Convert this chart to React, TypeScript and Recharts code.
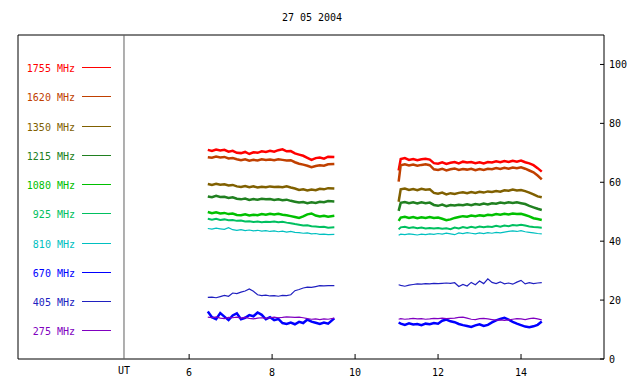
import React from "react";
import { LineChart, Line, XAxis, YAxis, ReferenceArea, ReferenceLine } from "recharts";

// observation times (UT hours), two recording sessions
const T1 = [6.45, 6.55, 6.65, 6.75, 6.85, 6.95, 7.05, 7.15, 7.25, 7.35, 7.45, 7.55, 7.65, 7.75, 7.85, 7.95, 8.05, 8.15, 8.25, 8.35, 8.45, 8.55, 8.65, 8.75, 8.85, 8.95, 9.05, 9.15, 9.25, 9.35, 9.5];
const T2 = [11.05, 11.1, 11.2, 11.3, 11.4, 11.5, 11.6, 11.7, 11.8, 11.9, 12.0, 12.1, 12.2, 12.3, 12.4, 12.5, 12.6, 12.7, 12.8, 12.9, 13.0, 13.1, 13.2, 13.3, 13.4, 13.5, 13.6, 13.7, 13.8, 13.9, 14.0, 14.1, 14.2, 14.3, 14.4, 14.5];
const GAP = 10.3;

const f1755 = [71.0, 70.6, 71.1, 70.8, 71.0, 70.4, 70.7, 70.0, 69.9, 70.3, 69.6, 70.2, 70.0, 70.5, 70.3, 70.7, 70.4, 70.9, 71.2, 70.5, 70.6, 69.8, 69.4, 69.0, 68.3, 67.6, 68.2, 68.4, 68.0, 68.7, 68.6,
  64.0, 67.9, 68.2, 67.6, 67.9, 67.5, 67.8, 68.0, 67.7, 66.5, 66.3, 66.8, 66.2, 66.6, 66.9, 66.4, 67.0, 66.7, 66.9, 66.5, 66.8, 66.4, 66.9, 66.7, 67.1, 66.8, 67.2, 66.9, 67.3, 67.0, 67.4, 66.8, 66.4, 65.8, 64.8, 63.6];
const f1620 = [68.5, 68.3, 68.7, 68.4, 68.6, 68.1, 68.2, 67.8, 67.5, 67.8, 67.3, 67.6, 67.4, 67.8, 67.6, 67.7, 67.5, 67.8, 67.6, 67.4, 67.5, 66.8, 66.3, 66.0, 65.6, 65.1, 65.5, 65.8, 65.6, 66.1, 66.2,
  60.2, 65.8, 66.1, 65.7, 66.0, 65.6, 65.9, 66.1, 65.8, 64.4, 64.2, 64.6, 64.0, 64.4, 64.7, 64.2, 64.5, 64.3, 64.6, 64.1, 64.5, 64.2, 64.6, 64.4, 64.8, 64.5, 64.9, 64.6, 65.0, 64.8, 65.1, 64.6, 64.0, 63.4, 62.3, 61.0];
const f1350 = [59.4, 59.1, 59.5, 59.2, 59.3, 58.9, 59.1, 58.6, 58.4, 58.7, 58.3, 58.6, 58.2, 58.5, 58.3, 58.6, 58.4, 58.5, 58.3, 58.6, 58.2, 57.9, 57.4, 57.6, 57.2, 57.5, 57.3, 57.8, 57.6, 58.0, 57.9,
  53.4, 57.6, 57.9, 57.4, 57.7, 57.3, 57.8, 57.5, 57.6, 56.4, 56.1, 56.5, 55.9, 56.3, 56.0, 56.4, 56.6, 56.3, 56.7, 56.4, 56.8, 56.5, 56.9, 56.7, 57.0, 56.8, 57.3, 57.1, 57.5, 57.2, 57.4, 57.0, 56.5, 55.9, 55.2, 54.9];
const f1215 = [55.2, 54.9, 55.4, 55.0, 55.1, 54.7, 54.9, 54.4, 54.2, 54.5, 54.0, 54.3, 54.1, 54.4, 54.2, 54.3, 54.0, 54.2, 53.9, 54.1, 53.7, 53.4, 53.1, 53.3, 52.9, 53.2, 53.0, 53.4, 53.2, 53.6, 53.5,
  50.3, 53.0, 53.3, 52.9, 53.2, 52.8, 53.2, 52.9, 53.1, 52.3, 52.0, 52.4, 51.9, 52.3, 52.1, 52.4, 52.2, 52.5, 52.2, 52.6, 52.4, 52.8, 52.5, 52.9, 52.7, 53.1, 52.9, 53.2, 53.0, 53.2, 52.9, 52.6, 52.0, 51.5, 51.0, 50.6];
const f1080 = [49.9, 49.5, 49.8, 49.4, 49.6, 49.2, 49.4, 48.9, 48.8, 49.1, 48.7, 49.0, 48.8, 49.2, 49.0, 49.3, 49.1, 49.3, 49.0, 48.8, 48.5, 48.2, 47.9, 48.4, 49.1, 49.4, 48.7, 48.4, 48.6, 48.3, 48.6,
  46.9, 48.0, 48.3, 47.9, 48.2, 47.8, 48.1, 47.9, 48.2, 47.9, 48.0, 47.6, 47.1, 47.4, 47.9, 48.2, 48.5, 48.3, 48.7, 48.5, 48.8, 48.6, 49.0, 48.8, 49.2, 49.0, 49.3, 49.1, 49.4, 49.2, 49.3, 48.9, 48.4, 47.8, 47.5, 47.2];
const f925 = [47.6, 47.3, 47.6, 47.2, 47.4, 47.1, 47.2, 46.9, 47.0, 46.7, 46.8, 46.5, 46.7, 46.4, 46.6, 46.5, 46.7, 46.4, 46.6, 46.3, 46.1, 45.8, 45.6, 45.3, 45.4, 45.1, 45.0, 44.8, 44.9, 44.6, 44.7,
  44.0, 44.7, 44.9, 44.5, 44.7, 44.4, 44.6, 44.3, 44.5, 44.3, 44.5, 44.2, 44.4, 44.1, 44.6, 44.3, 44.8, 44.5, 44.9, 44.6, 45.0, 44.7, 45.0, 44.8, 45.2, 44.9, 45.3, 45.1, 45.5, 45.3, 45.6, 45.3, 45.0, 44.8, 44.7, 44.6];
const f810 = [44.3, 44.1, 44.4, 44.2, 44.0, 44.6, 43.9, 43.7, 43.9, 43.6, 43.8, 43.5, 43.7, 43.4, 43.6, 43.3, 43.5, 43.2, 43.4, 43.1, 43.3, 43.0, 42.9, 42.7, 42.8, 42.5, 42.6, 42.3, 42.4, 42.2, 42.3,
  42.0, 42.4, 42.2, 42.5, 42.3, 42.1, 42.4, 42.2, 42.5, 42.3, 42.6, 42.4, 42.7, 42.5, 42.2, 42.8, 42.6, 42.9, 42.7, 42.5, 42.8, 42.6, 42.9, 42.7, 43.0, 42.8, 43.1, 43.3, 43.5, 43.3, 43.6, 43.2, 43.0, 42.8, 42.6, 42.5];
const f670 = [16.1, 14.2, 13.5, 15.6, 14.4, 13.2, 14.8, 15.5, 13.5, 14.0, 14.9, 14.5, 15.8, 15.0, 13.5, 14.2, 13.2, 13.6, 12.2, 11.9, 12.4, 11.8, 12.6, 12.2, 13.4, 12.7, 12.3, 11.9, 12.4, 12.0, 13.8,
  12.4, 12.0, 11.6, 12.1, 11.7, 11.9, 11.5, 12.0, 11.8, 12.2, 12.0, 13.0, 13.4, 12.8, 12.5, 11.9, 11.5, 11.2, 10.9, 11.4, 11.8, 11.2, 11.6, 12.4, 13.1, 13.6, 14.0, 13.4, 12.6, 12.0, 11.5, 11.0, 10.8, 11.1, 11.6, 12.7];
const f405 = [20.9, 21.0, 20.8, 21.2, 21.6, 21.3, 22.4, 22.2, 22.7, 23.1, 23.8, 23.0, 21.8, 21.5, 21.7, 21.4, 21.5, 21.3, 21.6, 21.5, 21.8, 23.2, 23.6, 24.1, 24.4, 24.3, 24.6, 24.9, 24.8, 24.9, 24.9,
  25.2, 25.0, 24.7, 25.1, 25.3, 25.5, 25.4, 25.6, 25.5, 25.7, 25.6, 25.7, 25.8, 25.7, 25.9, 24.6, 25.3, 24.8, 26.0, 25.2, 26.5, 25.6, 27.2, 26.0, 25.6, 26.2, 25.5, 25.8, 25.4, 26.1, 26.7, 25.5, 25.9, 25.6, 25.8, 25.9];
const f275 = [14.2, 14.0, 14.3, 13.9, 13.7, 14.1, 14.0, 14.2, 13.9, 14.1, 13.8, 13.6, 13.9, 14.0, 13.8, 14.0, 14.2, 14.0, 14.1, 14.3, 14.2, 14.1, 14.2, 14.0, 13.7, 13.5, 13.6, 13.4, 13.6, 13.5, 13.9,
  13.5, 13.7, 13.5, 13.6, 13.8, 13.6, 13.7, 13.5, 13.6, 13.8, 13.7, 13.9, 13.7, 13.8, 13.9, 14.1, 14.2, 13.9, 13.5, 13.4, 13.7, 13.8, 13.6, 13.4, 13.2, 13.3, 13.1, 13.3, 13.5, 13.7, 13.6, 13.4, 13.7, 13.9, 13.6, 13.3];

const SERIES = [
  { key: "f1755", label: "1755 MHz", color: "#ff0000", values: f1755, w: 2.5 },
  { key: "f1620", label: "1620 MHz", color: "#c04000", values: f1620, w: 2.5 },
  { key: "f1350", label: "1350 MHz", color: "#806000", values: f1350, w: 2.5 },
  { key: "f1215", label: "1215 MHz", color: "#208020", values: f1215, w: 2.5 },
  { key: "f1080", label: "1080 MHz", color: "#00c000", values: f1080, w: 2.5 },
  { key: "f925", label: "925 MHz", color: "#00c060", values: f925, w: 2 },
  { key: "f810", label: "810 MHz", color: "#00c0c0", values: f810, w: 1.2 },
  { key: "f670", label: "670 MHz", color: "#0000ff", values: f670, w: 2.5 },
  { key: "f405", label: "405 MHz", color: "#2020c0", values: f405, w: 1.2 },
  { key: "f275", label: "275 MHz", color: "#8000c0", values: f275, w: 1.2 },
];

const X_TICKS = [6, 8, 10, 12, 14];
const Y_TICKS = [0, 20, 40, 60, 80, 100];
const X_MIN = 1.875;
const X_MAX = 16;
const UT_POS = 4.43;
const TITLE = "27 05 2004";

const FONT = "'DejaVu Sans Mono', 'Liberation Mono', monospace";

const times = [...T1, GAP, ...T2];
const data = times.map((t, i) => {
  const row: Record<string, number | null> = { t };
  const gapIdx = T1.length;
  SERIES.forEach((s) => {
    if (i === gapIdx) row[s.key] = null;
    else row[s.key] = s.values[i < gapIdx ? i : i - 1];
  });
  return row;
});

function BottomTick({ x, y, payload }: any) {
  const ut = payload.value === UT_POS;
  return (
    <g>
      {!ut && <line x1={x} y1={y} x2={x} y2={y - 5} stroke="#000" />}
      <text x={x} y={ut ? y + 15 : y + 17} textAnchor="middle" fontSize={10} fontFamily={FONT} fill="#000">
        {ut ? "UT" : payload.value}
      </text>
    </g>
  );
}

function TopTick({ x, y }: any) {
  return <line x1={x} y1={y} x2={x} y2={y + 5} stroke="#000" />;
}

function RightTick({ x, y, payload }: any) {
  return (
    <g>
      <line x1={x - 4} y1={y} x2={x} y2={y} stroke="#000" />
      <text x={x + 5} y={y + 4} textAnchor="start" fontSize={10} fontFamily={FONT} fill="#000">
        {payload.value}
      </text>
    </g>
  );
}

// legend drawn like the original: colored label, then a short sample line
function LegendBox() {
  return (
    <svg width={124} height={384} style={{ position: "absolute", left: 0, top: 0 }}>
      {SERIES.map((s, i) => {
        const y = Math.round(67 + i * 29.25) + 0.5;
        return (
          <g key={s.key}>
            <text x={75} y={y + 4.5} textAnchor="end" fontSize={10} fontFamily={FONT} fill={s.color}>
              {s.label}
            </text>
            <line x1={82} y1={y} x2={111} y2={y} stroke={s.color} strokeWidth={1} />
          </g>
        );
      })}
    </svg>
  );
}

export default function App() {
  return (
    <div style={{ position: "absolute", left: 0, top: 0, width: 640, height: 384, background: "#fff", fontFamily: FONT }}>
      <div style={{ position: "absolute", left: 0, top: 12, width: 624, textAlign: "center", fontSize: 10 }}>{TITLE}</div>
      <LineChart width={640} height={384} data={data} margin={{ top: 35, right: 0, bottom: 0, left: 18 }}>
        <XAxis
          dataKey="t"
          type="number"
          domain={[X_MIN, X_MAX]}
          allowDataOverflow
          ticks={[UT_POS, ...X_TICKS]}
          height={25}
          tickSize={0}
          tickMargin={0}
          axisLine={false}
          tick={<BottomTick />}
        />
        <XAxis
          xAxisId="top"
          orientation="top"
          dataKey="t"
          type="number"
          domain={[X_MIN, X_MAX]}
          allowDataOverflow
          ticks={X_TICKS}
          height={0}
          tickSize={0}
          tickMargin={0}
          axisLine={false}
          tick={<TopTick />}
        />
        <YAxis
          orientation="right"
          type="number"
          domain={[0, 110]}
          ticks={Y_TICKS}
          width={36}
          tickSize={0}
          tickMargin={0}
          axisLine={false}
          tick={<RightTick />}
        />
        <ReferenceArea x1={X_MIN} x2={X_MAX} y1={0} y2={110} fill="none" stroke="#000" strokeOpacity={1} ifOverflow="visible" />
        <ReferenceLine x={UT_POS} stroke="#606060" />
        {SERIES.map((s) => (
          <Line
            key={s.key}
            type="linear"
            dataKey={s.key}
            stroke={s.color}
            strokeWidth={s.w}
            dot={false}
            connectNulls={false}
            isAnimationActive={false}
          />
        ))}
      </LineChart>
      <LegendBox />
    </div>
  );
}
